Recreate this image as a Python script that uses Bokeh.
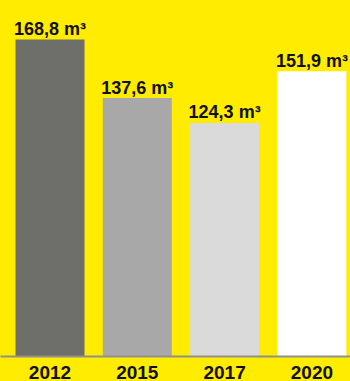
from bokeh.plotting import figure
from bokeh.models import ColumnDataSource, Range1d, FixedTicker
from bokeh.core.properties import value
from bokeh.embed import file_html
from bokeh.resources import INLINE

years = ["2012", "2015", "2017", "2020"]
volumes = [168.8, 137.6, 124.3, 151.9]
value_labels = ["168,8 m³", "137,6 m³", "124,3 m³", "151,9 m³"]
bar_colors = ["#6E6E6A", "#A8A8A8", "#D9DAD9", "#FFFFFF"]

YELLOW = "#FFEC00"
FONT = "Liberation Sans"

xs = list(range(len(years)))
src = ColumnDataSource(dict(x=xs, top=volumes, label=value_labels, color=bar_colors))

p = figure(width=350, height=381, output_backend="svg", toolbar_location=None,
           x_range=Range1d(-0.567, 3.442), y_range=Range1d(0, 189.5),
           min_border_left=0, min_border_right=0, min_border_top=0, min_border_bottom=25)
p.background_fill_color = YELLOW
p.border_fill_color = YELLOW
p.outline_line_color = None
p.grid.visible = False
p.yaxis.visible = False

p.vbar(x="x", top="top", bottom=0, width=0.79, fill_color="color", line_color=None, source=src)
p.text(x="x", y="top", text="label", source=src, text_align="center", text_baseline="alphabetic",
       y_offset=-10.5, text_font=value(FONT), text_font_style="bold", text_font_size="18px",
       text_color="#111111")

ax = p.xaxis[0]
ax.ticker = FixedTicker(ticks=xs)
ax.major_label_overrides = {i: y for i, y in zip(xs, years)}
ax.axis_line_color = "#8F8F8F"
ax.axis_line_width = 2
ax.major_tick_line_color = None
ax.minor_tick_line_color = None
ax.major_tick_out = 0
ax.major_tick_in = 0
ax.major_label_standoff = 9
ax.major_label_text_font = FONT
ax.major_label_text_font_style = "bold"
ax.major_label_text_font_size = "19px"
ax.major_label_text_color = "#111111"

html = file_html(p, INLINE)
html = html.replace("</head>", "<style>html, body { background-color: %s; }</style></head>" % YELLOW, 1)
open("out.html", "w").write(html)
